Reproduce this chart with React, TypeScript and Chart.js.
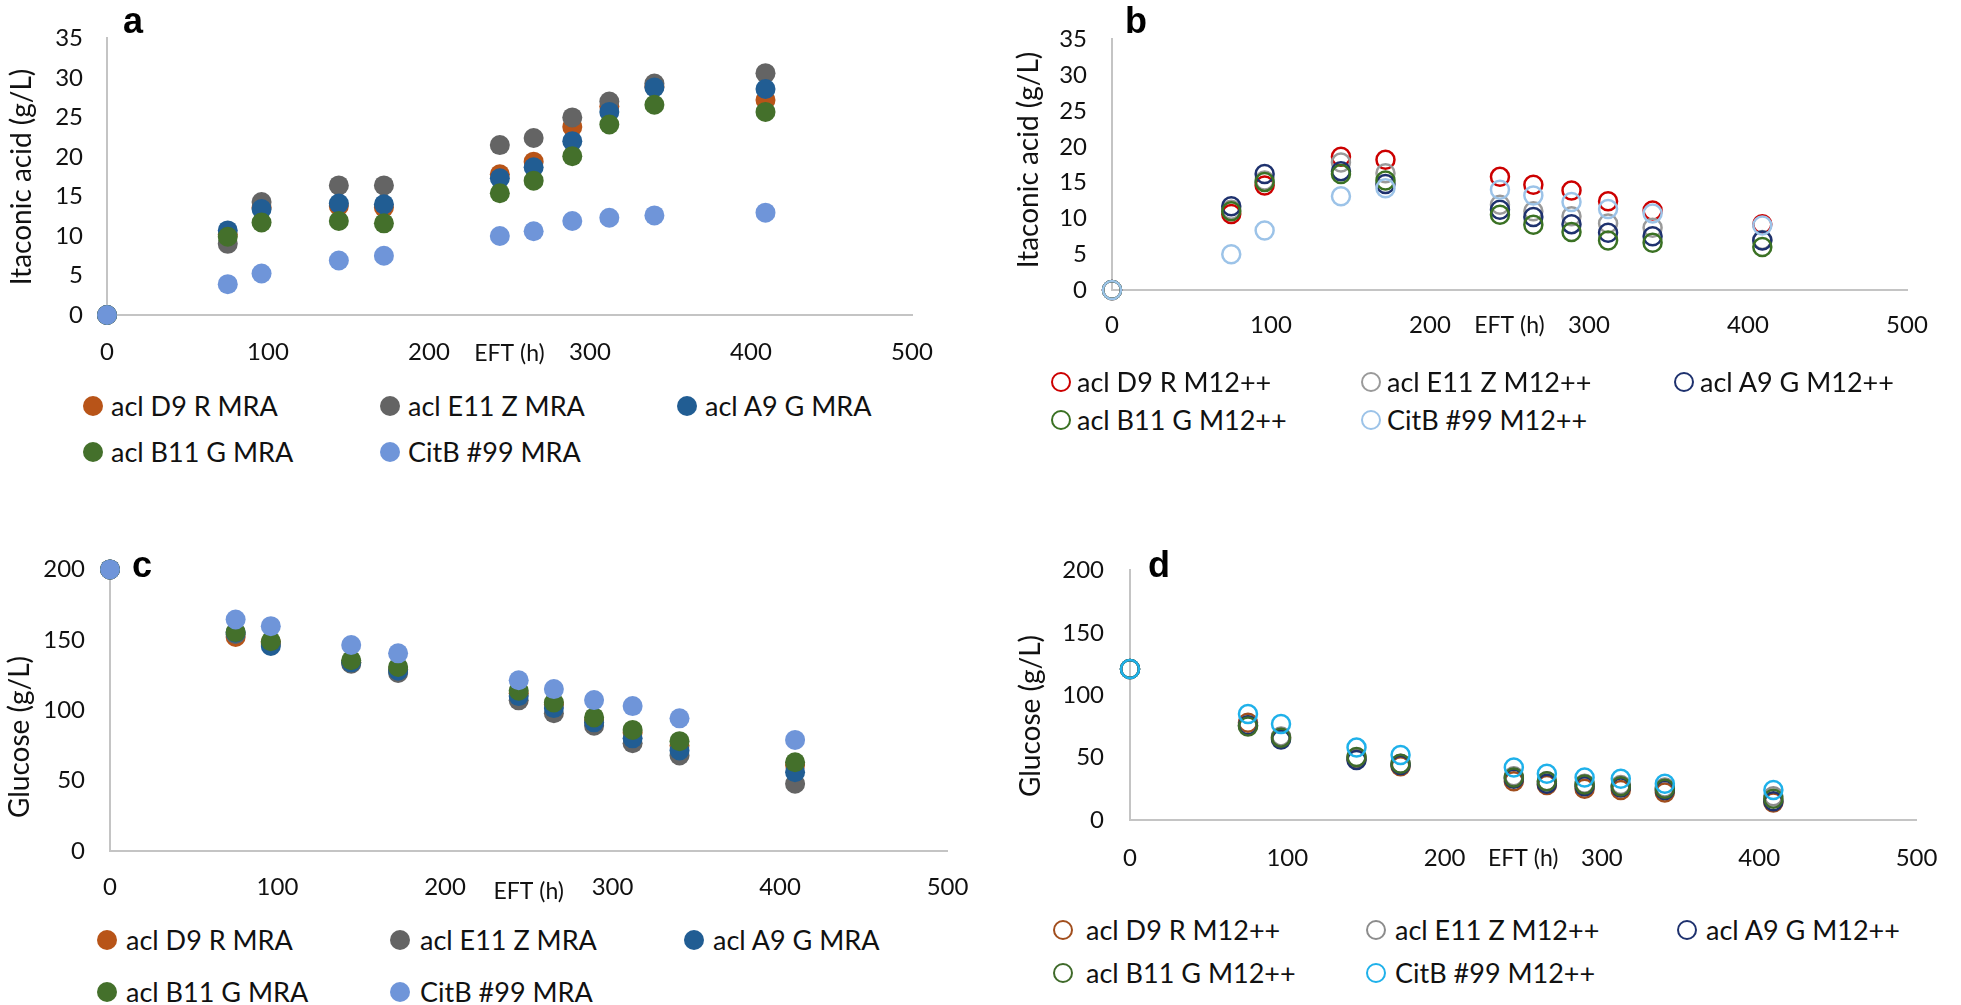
import React, { useEffect, useRef } from "react";
import { Chart, registerables } from "chart.js";

Chart.register(...registerables);

// ---------------- data ----------------
const times = [0, 75, 96, 144, 172, 244, 265, 289, 312, 340, 409];
const xTicks = [0, 100, 200, 300, 400, 500];
const itaTicks = [0, 5, 10, 15, 20, 25, 30, 35];
const gluTicks = [0, 50, 100, 150, 200];

const labelsMRA = ["acl D9 R MRA", "acl E11 Z MRA", "acl A9 G MRA", "acl B11 G MRA", "CitB #99 MRA"];
const labelsM12 = ["acl D9 R M12++", "acl E11 Z M12++", "acl A9 G M12++", "acl B11 G M12++", "CitB #99 M12++"];

// a: itaconic acid, MRA
const itaD9R_MRA = [0, 10.2, 13.6, 13.8, 13.6, 17.8, 19.4, 23.8, 26.4, 28.9, 27.2];
const itaE11Z_MRA = [0, 9.0, 14.3, 16.4, 16.4, 21.5, 22.4, 25.0, 27.0, 29.3, 30.6];
const itaA9G_MRA = [0, 10.7, 13.4, 14.1, 14.0, 17.3, 18.7, 22.0, 25.7, 28.8, 28.6];
const itaB11G_MRA = [0, 9.9, 11.7, 11.9, 11.6, 15.4, 17.0, 20.1, 24.1, 26.6, 25.7];
const itaCitB_MRA = [0, 3.9, 5.25, 6.9, 7.5, 10.0, 10.6, 11.9, 12.3, 12.6, 12.95];

// b: itaconic acid, M12++
const itaD9R_M12 = [0, 10.6, 14.6, 18.6, 18.2, 15.8, 14.7, 13.9, 12.4, 11.1, 9.2];
const itaE11Z_M12 = [0, 11.2, 15.3, 17.8, 16.3, 11.9, 11.0, 10.3, 9.3, 8.7, 7.0];
const itaA9G_M12 = [0, 11.7, 16.2, 16.6, 14.8, 11.2, 10.2, 9.2, 8.0, 7.5, 6.9];
const itaB11G_M12 = [0, 11.0, 15.1, 16.2, 15.3, 10.5, 9.1, 8.1, 6.9, 6.6, 6.0];
const itaCitB_M12 = [0, 5.0, 8.3, 13.1, 14.2, 14.0, 13.2, 12.3, 11.3, 10.7, 9.0];

// c: glucose, MRA
const gluD9R_MRA = [200, 152, 148, 134, 129, 112, 104, 93, 84, 75, 61];
const gluE11Z_MRA = [200, 154, 147, 133, 126.5, 107, 97.8, 89, 76.5, 67.8, 47.8];
const gluA9G_MRA = [200, 155, 145.6, 134, 128, 110, 101.5, 91.4, 80, 71.4, 56];
const gluB11G_MRA = [200, 155.5, 149, 135.5, 130.7, 113.8, 105.5, 94.9, 86, 78, 63];
const gluCitB_MRA = [200, 164.4, 159.7, 146.3, 140.4, 121.3, 115, 107.2, 102.9, 94.2, 78.9];

// d: glucose, M12++
const gluD9R_M12 = [121, 78, 66, 49, 43, 31, 28, 25, 24, 22, 14];
const gluE11Z_M12 = [121, 76, 67, 50, 45, 35, 31, 29, 28, 26, 19];
const gluA9G_M12 = [121, 76, 64.5, 48, 44, 33, 29, 27, 26, 24, 15];
const gluB11G_M12 = [121, 75, 66, 50.5, 45, 34, 31, 28.5, 27, 25, 17];
const gluCitB_M12 = [121, 85, 77, 58, 52, 42, 37, 34, 33, 29, 24];

// ---------------- styles ----------------
const FONT = "Lato, 'Open Sans', sans-serif";
const TEXT = "#111111";
const AXIS = "#c4c4c4";

const colorsMRA = ["#b85418", "#646464", "#215d93", "#44702b", "#6f95d9"];
const colorsB = ["#cc0000", "#9a9a9a", "#1e316e", "#3a7123", "#9cc3e8"];
const colorsD = ["#a14e1d", "#8c8c8c", "#1e316e", "#3f6a2a", "#1fb1ea"];

interface Geo {
  cl: number; ct: number; cw: number; ch: number;
  left: number; right: number; top: number; bottom: number;
  yTickPad: number; xTickPad: number; xTitlePad: number;
  yTitleX: number; yTitleY: number;
}

interface PanelProps {
  geo: Geo;
  labels: string[];
  values: number[][];
  colors: string[];
  hollow: boolean;
  yTicks: number[];
  yTitle: string;
}

function Panel({ geo, labels, values, colors, hollow, yTicks, yTitle }: PanelProps) {
  const ref = useRef<HTMLCanvasElement>(null);
  useEffect(() => {
    if (!ref.current) return;
    const n = labels.length;
    const yAxisW = geo.left - geo.cl;
    const xAxisH = geo.ct + geo.ch - geo.bottom;
    const yTitlePlugin = {
      id: "yTitleText",
      afterDraw(chart: any) {
        const ctx = chart.ctx;
        ctx.save();
        ctx.translate(geo.yTitleX - geo.cl, geo.yTitleY - geo.ct);
        ctx.rotate(-Math.PI / 2);
        ctx.fillStyle = TEXT;
        ctx.font = `28px ${FONT}`;
        ctx.textAlign = "center";
        ctx.textBaseline = "middle";
        ctx.fillText(yTitle, 0, 0);
        ctx.restore();
      },
    };
    const chart = new Chart(ref.current, {
      type: "scatter",
      data: {
        datasets: labels.map((label, i) => ({
          label,
          data: times.map((t, j) => ({ x: t, y: values[i][j] })),
          order: n - 1 - i,
          showLine: false,
          clip: false,
          pointStyle: "circle",
          pointRadius: hollow ? 9 : 10,
          pointHoverRadius: hollow ? 9 : 10,
          pointBorderWidth: hollow ? 2.5 : 0,
          pointHoverBorderWidth: hollow ? 2.5 : 0,
          pointBackgroundColor: hollow ? "rgba(0,0,0,0)" : colors[i],
          pointBorderColor: colors[i],
          backgroundColor: hollow ? "rgba(0,0,0,0)" : colors[i],
          borderColor: colors[i],
        })),
      },
      options: {
        animation: false,
        responsive: false,
        devicePixelRatio: 1,
        events: [],
        layout: {
          padding: {
            left: 0,
            top: geo.top - geo.ct,
            right: geo.cl + geo.cw - geo.right,
            bottom: 0,
          },
        },
        plugins: { legend: { display: false }, tooltip: { enabled: false } },
        scales: {
          x: {
            type: "linear",
            min: xTicks[0],
            max: xTicks[xTicks.length - 1],
            afterBuildTicks: (s: any) => {
              s.ticks = xTicks.map((v) => ({ value: v }));
            },
            afterFit: (s: any) => {
              s.height = xAxisH;
            },
            grid: { display: false, drawTicks: false },
            border: { display: true, color: AXIS, width: 2 },
            ticks: {
              padding: geo.xTickPad,
              maxRotation: 0,
              autoSkip: false,
              color: TEXT,
              font: { family: FONT, size: 24 },
            },
            title: {
              display: true,
              text: "EFT (h)",
              color: TEXT,
              font: { family: FONT, size: 23 },
              padding: { top: 0, bottom: geo.xTitlePad },
            },
          },
          y: {
            type: "linear",
            min: yTicks[0],
            max: yTicks[yTicks.length - 1],
            afterBuildTicks: (s: any) => {
              s.ticks = yTicks.map((v) => ({ value: v }));
            },
            afterFit: (s: any) => {
              s.width = yAxisW;
            },
            grid: { display: false, drawTicks: false },
            border: { display: true, color: AXIS, width: 2 },
            ticks: {
              padding: geo.yTickPad,
              autoSkip: false,
              color: TEXT,
              font: { family: FONT, size: 24 },
            },
            title: { display: false, text: yTitle },
          },
        },
      } as any,
      plugins: [yTitlePlugin],
    });
    return () => chart.destroy();
  }, []);
  return (
    <canvas
      ref={ref}
      width={geo.cw}
      height={geo.ch}
      style={{ position: "absolute", left: geo.cl, top: geo.ct, width: geo.cw, height: geo.ch }}
    />
  );
}

interface LegendProps {
  labels: string[];
  colors: string[];
  hollow: boolean;
  rows: number[];
  markers: number[];
  texts: number[];
  fontSize: number;
}

function Legend({ labels, colors, hollow, rows, markers, texts, fontSize }: LegendProps) {
  const lh = Math.round(fontSize * 1.2);
  return (
    <>
      {labels.map((label, i) => {
        const row = i < 3 ? 0 : 1;
        const col = i % 3;
        const cy = rows[row];
        const mStyle: React.CSSProperties = {
          position: "absolute",
          left: markers[col] - 10,
          top: cy - 10,
          width: 20,
          height: 20,
          borderRadius: "50%",
          boxSizing: "border-box",
          background: hollow ? "transparent" : colors[i],
          border: hollow ? `2.5px solid ${colors[i]}` : "none",
        };
        return (
          <React.Fragment key={label}>
            <div style={mStyle} />
            <div
              style={{
                position: "absolute",
                left: texts[col],
                top: cy - lh / 2,
                height: lh,
                lineHeight: `${lh}px`,
                fontFamily: FONT,
                fontSize,
                color: TEXT,
                whiteSpace: "nowrap",
              }}
            >
              {label}
            </div>
          </React.Fragment>
        );
      })}
    </>
  );
}

function Letter({ ch, left, top }: { ch: string; left: number; top: number }) {
  return (
    <div
      style={{
        position: "absolute",
        left,
        top,
        fontFamily: "'Liberation Sans', Arial, sans-serif",
        fontWeight: "bold",
        fontSize: 36,
        lineHeight: "36px",
        color: "#000",
      }}
    >
      {ch}
    </div>
  );
}

const geoA: Geo = { cl: 0, ct: 0, cw: 975, ch: 380, left: 107, right: 912, top: 15, bottom: 315, yTickPad: 24, xTickPad: 23, xTitlePad: 12.6, yTitleX: 22, yTitleY: 177 };
const geoB: Geo = { cl: 985, ct: 0, cw: 976, ch: 370, left: 1112, right: 1907, top: 27, bottom: 290, yTickPad: 25, xTickPad: 20.6, xTitlePad: 30.6, yTitleX: 1029, yTitleY: 160 };
const geoC: Geo = { cl: 0, ct: 530, cw: 990, ch: 390, left: 110, right: 948, top: 568, bottom: 851, yTickPad: 25, xTickPad: 21.6, xTitlePad: 14.6, yTitleX: 20, yTitleY: 737 };
const geoD: Geo = { cl: 985, ct: 530, cw: 976, ch: 370, left: 1130, right: 1938, top: 568, bottom: 820, yTickPad: 26, xTickPad: 23.6, xTitlePad: 27.6, yTitleX: 1031, yTitleY: 716 };

export default function App() {
  return (
    <div
      style={{
        position: "absolute",
        left: 0,
        top: 0,
        width: 1961,
        height: 1005,
        overflow: "hidden",
        background: "#ffffff",
      }}
    >
      <Panel
        geo={geoA}
        labels={labelsMRA}
        values={[itaD9R_MRA, itaE11Z_MRA, itaA9G_MRA, itaB11G_MRA, itaCitB_MRA]}
        colors={colorsMRA}
        hollow={false}
        yTicks={itaTicks}
        yTitle="Itaconic acid (g/L)"
      />
      <Panel
        geo={geoB}
        labels={labelsM12}
        values={[itaD9R_M12, itaE11Z_M12, itaA9G_M12, itaB11G_M12, itaCitB_M12]}
        colors={colorsB}
        hollow={true}
        yTicks={itaTicks}
        yTitle="Itaconic acid (g/L)"
      />
      <Panel
        geo={geoC}
        labels={labelsMRA}
        values={[gluD9R_MRA, gluE11Z_MRA, gluA9G_MRA, gluB11G_MRA, gluCitB_MRA]}
        colors={colorsMRA}
        hollow={false}
        yTicks={gluTicks}
        yTitle="Glucose (g/L)"
      />
      <Panel
        geo={geoD}
        labels={labelsM12}
        values={[gluD9R_M12, gluE11Z_M12, gluA9G_M12, gluB11G_M12, gluCitB_M12]}
        colors={colorsD}
        hollow={true}
        yTicks={gluTicks}
        yTitle="Glucose (g/L)"
      />
      <Legend labels={labelsMRA} colors={colorsMRA} hollow={false} rows={[406, 452]} markers={[93, 390, 687]} texts={[111, 408, 705]} fontSize={27} />
      <Legend labels={labelsM12} colors={colorsB} hollow={true} rows={[382, 420]} markers={[1061, 1371, 1684]} texts={[1077, 1387, 1700]} fontSize={27} />
      <Legend labels={labelsMRA} colors={colorsMRA} hollow={false} rows={[940, 992]} markers={[107, 400, 694]} texts={[126, 420, 713]} fontSize={27} />
      <Legend labels={labelsM12} colors={colorsD} hollow={true} rows={[930, 973]} markers={[1063, 1376, 1687]} texts={[1086, 1395, 1706]} fontSize={27} />
      <Letter ch="a" left={123} top={3} />
      <Letter ch="b" left={1125} top={3} />
      <Letter ch="c" left={132} top={547} />
      <Letter ch="d" left={1148} top={547} />
    </div>
  );
}
